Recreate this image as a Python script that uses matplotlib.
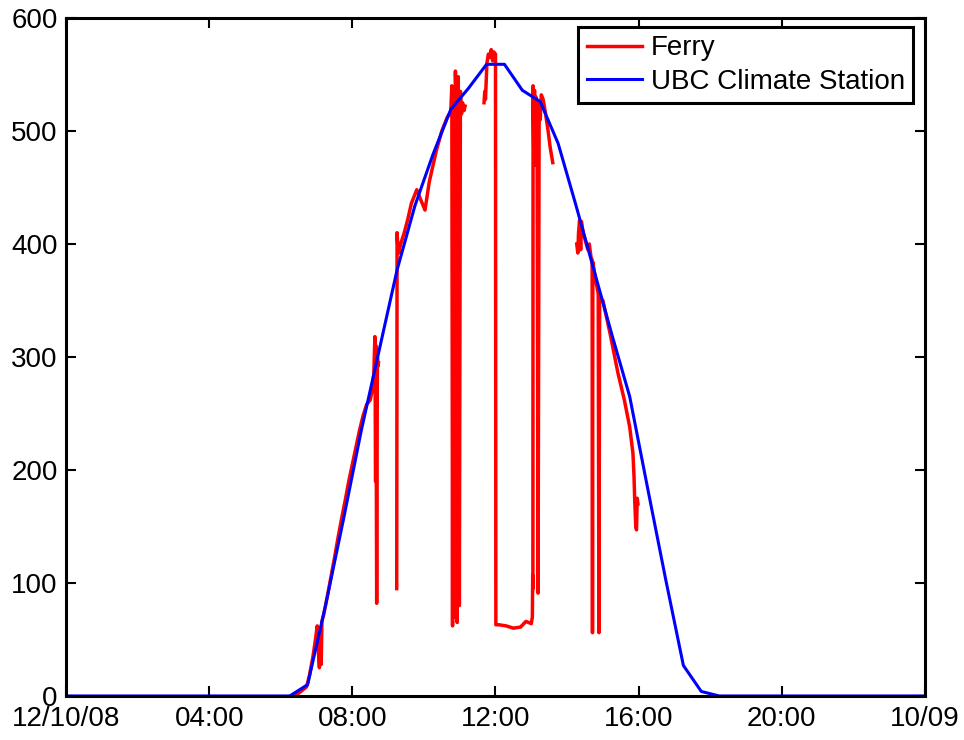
import numpy as np
import matplotlib
matplotlib.use("Agg")
import matplotlib.pyplot as plt

plt.rcParams['font.family'] = ['Liberation Sans', 'DejaVu Sans']

# UBC Climate Station, half-hourly (hours after midnight)
ubc_hours = [0, 6.25, 6.75, 7.25, 7.75, 8.25, 8.75, 9.25, 9.75, 10.25, 10.75,
             11.25, 11.75, 12.25, 12.75, 13.25, 13.75, 14.25, 14.75, 15.25,
             15.75, 16.25, 16.75, 17.25, 17.75, 18.25, 24]
ubc_vals = [0, 0, 10, 80, 156, 235, 306, 377, 434, 479, 519,
            538, 559, 559, 536, 526, 489, 434, 377, 320,
            265, 184, 104, 27, 4, 0, 0]

# Ferry radiometer (NaN = no data)
nan = np.nan
ferry_hours = [6.40, 6.72, 6.80, 6.90, 6.97, 7.02, 7.05, 7.08, 7.10, 7.13, 7.15,
               7.20, 7.30, 7.40, 7.50, 7.60, 7.70, 7.80, 7.90, 8.00, 8.10,
               8.20, 8.30, 8.40, 8.50, 8.55, 8.60, 8.63, 8.65, 8.66, 8.67,
               8.68, 8.70, 8.72, 8.73,
               nan,
               9.24, 9.25, 9.27, 9.30, 9.35, 9.45, 9.55, 9.65, 9.80, 9.90,
               10.03, 10.15, 10.35, 10.50, 10.65, 10.75, 10.78, 10.80, 10.82,
               10.85, 10.88, 10.90, 10.93, 10.96, 10.99, 11.02, 11.05, 11.08,
               11.12, 11.15,
               nan,
               11.68, 11.70, 11.72, 11.76, 11.80, 11.84, 11.88, 11.92, 11.95,
               12.00, 12.01, 12.10, 12.30, 12.50, 12.70, 12.85, 13.00, 13.03,
               13.04, 13.045, 13.05, 13.07, 13.09, 13.11, 13.13, 13.16, 13.19,
               13.22, 13.25, 13.28, 13.33, 13.40, 13.47, 13.53, 13.60,
               nan,
               14.27, 14.30, 14.32, 14.35, 14.38, 14.40, 14.45, 14.52, 14.58,
               14.62, 14.67, 14.70, 14.71, 14.72, 14.80, 14.87, 14.89, 14.91,
               15.00, 15.20, 15.42, 15.60, 15.75, 15.84, 15.87, 15.89, 15.92,
               15.94, 15.96, 15.98]
ferry_vals = [0, 8, 18, 35, 50, 62, 40, 25, 60, 28, 66,
              72, 88, 105, 122, 140, 157, 173, 190, 205, 220,
              235, 248, 258, 262, 270, 285, 318, 190, 310, 200,
              82, 300, 292, 295,
              nan,
              95, 410, 398, 392, 400, 410, 422, 436, 448, 440,
              430, 455, 483, 500, 512, 517, 540, 62, 530,
              70, 553, 520, 65, 548, 80, 535, 515, 525,
              518, 522,
              nan,
              525, 535, 528, 560, 568, 565, 572, 562, 570,
              568, 63, 63, 62, 60, 61, 66, 64, 70,
              107, 95, 540, 480, 536, 470, 530, 520, 91,
              525, 510, 532, 528, 515, 500, 485, 472,
              nan,
              400, 392, 410, 421, 395, 420, 410, 402, 395,
              400, 388, 386, 56, 384, 368, 356, 56, 352,
              350, 321, 286, 262, 238, 215, 195, 173, 150,
              147, 175, 170]

tick_hours = [0, 4, 8, 12, 16, 20, 24]
tick_labels = ['12/10/08', '04:00', '08:00', '12:00', '16:00', '20:00', '10/09']

fig = plt.figure(figsize=(9.64, 7.40), dpi=100)
ax = fig.add_axes([0.0685, 0.0595, 0.891, 0.9162])

ax.plot(ferry_hours, ferry_vals, color='#ff0000', lw=2.5, label='Ferry')
ax.plot(ubc_hours, ubc_vals, color='#0000ff', lw=2.2, label='UBC Climate Station')

ax.set_xlim(0, 24)
ax.set_ylim(0, 600)
ax.set_xticks(tick_hours)
ax.set_xticklabels(tick_labels)
ax.set_yticks([0, 100, 200, 300, 400, 500, 600])

ax.tick_params(direction='in', length=7, width=1.5, labelsize=20,
               top=True, right=True, pad=6)
ax.tick_params(axis='x', pad=7)
for s in ax.spines.values():
    s.set_linewidth(2.2)

leg = ax.legend(loc='upper right', bbox_to_anchor=(913 / 964, 1 - 27 / 740),
                bbox_transform=fig.transFigure, borderaxespad=0,
                fancybox=False, fontsize=20, handlelength=2.0,
                labelspacing=0.26, borderpad=0.3, handletextpad=0.3)
leg.get_frame().set_edgecolor('black')
leg.get_frame().set_linewidth(2.2)
leg.get_frame().set_alpha(1)

fig.savefig('out.png', dpi=100)
